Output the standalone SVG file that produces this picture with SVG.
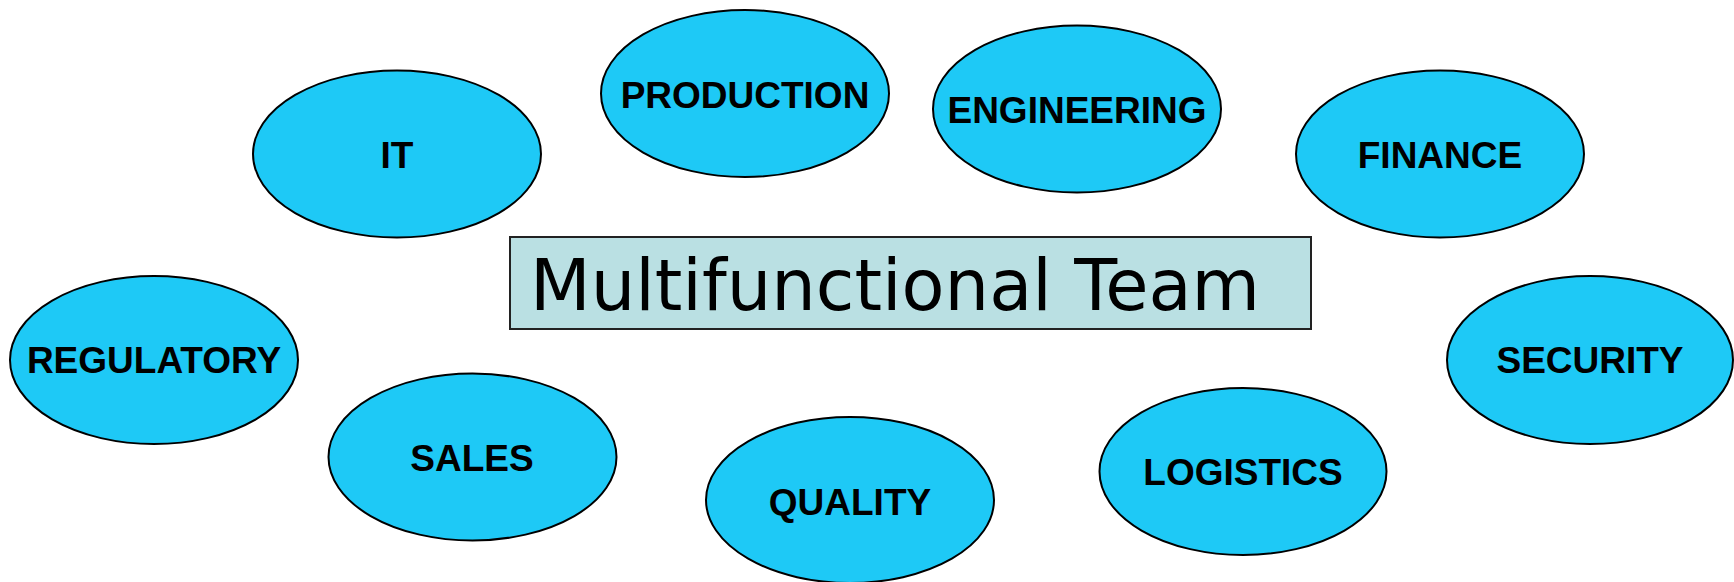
<svg xmlns="http://www.w3.org/2000/svg" width="1734" height="582" viewBox="0 0 1734 582">
<style>
.n ellipse{fill:#1EC9F6;stroke:#000;stroke-width:2}
.n text{font-family:"Liberation Sans",Arial,sans-serif;font-weight:bold;font-size:37px;fill:#000;text-anchor:middle}
.t{font-family:"DejaVu Sans",Verdana,sans-serif;font-size:72px;fill:#000}
</style>
<rect width="1734" height="582" fill="#fff"/>
<g id="title">
<rect x="510" y="237" width="801" height="92" fill="#BAE0E3" stroke="#222" stroke-width="2"/>
<text class="t" x="530" y="310" textLength="730" lengthAdjust="spacingAndGlyphs">Multifunctional Team</text>
</g>
<g id="connectors"></g>
<g id="it" class="n"><ellipse cx="397" cy="154" rx="144" ry="83.5"/><text x="397" y="168">IT</text></g>
<g id="production" class="n"><ellipse cx="745" cy="93.5" rx="144" ry="83.5"/><text x="745" y="108">PRODUCTION</text></g>
<g id="engineering" class="n"><ellipse cx="1077" cy="109" rx="144" ry="83.5"/><text x="1077" y="123">ENGINEERING</text></g>
<g id="finance" class="n"><ellipse cx="1440" cy="154" rx="144" ry="83.5"/><text x="1440" y="168">FINANCE</text></g>
<g id="regulatory" class="n"><ellipse cx="154" cy="360" rx="144" ry="84"/><text x="154" y="373">REGULATORY</text></g>
<g id="security" class="n"><ellipse cx="1590" cy="360" rx="143" ry="84"/><text x="1590" y="373">SECURITY</text></g>
<g id="sales" class="n"><ellipse cx="472.5" cy="457" rx="144" ry="83.5"/><text x="472" y="471">SALES</text></g>
<g id="quality" class="n"><ellipse cx="850" cy="500" rx="144" ry="83"/><text x="850" y="515">QUALITY</text></g>
<g id="logistics" class="n"><ellipse cx="1243" cy="471.5" rx="143.5" ry="83.5"/><text x="1243" y="485">LOGISTICS</text></g>
</svg>
